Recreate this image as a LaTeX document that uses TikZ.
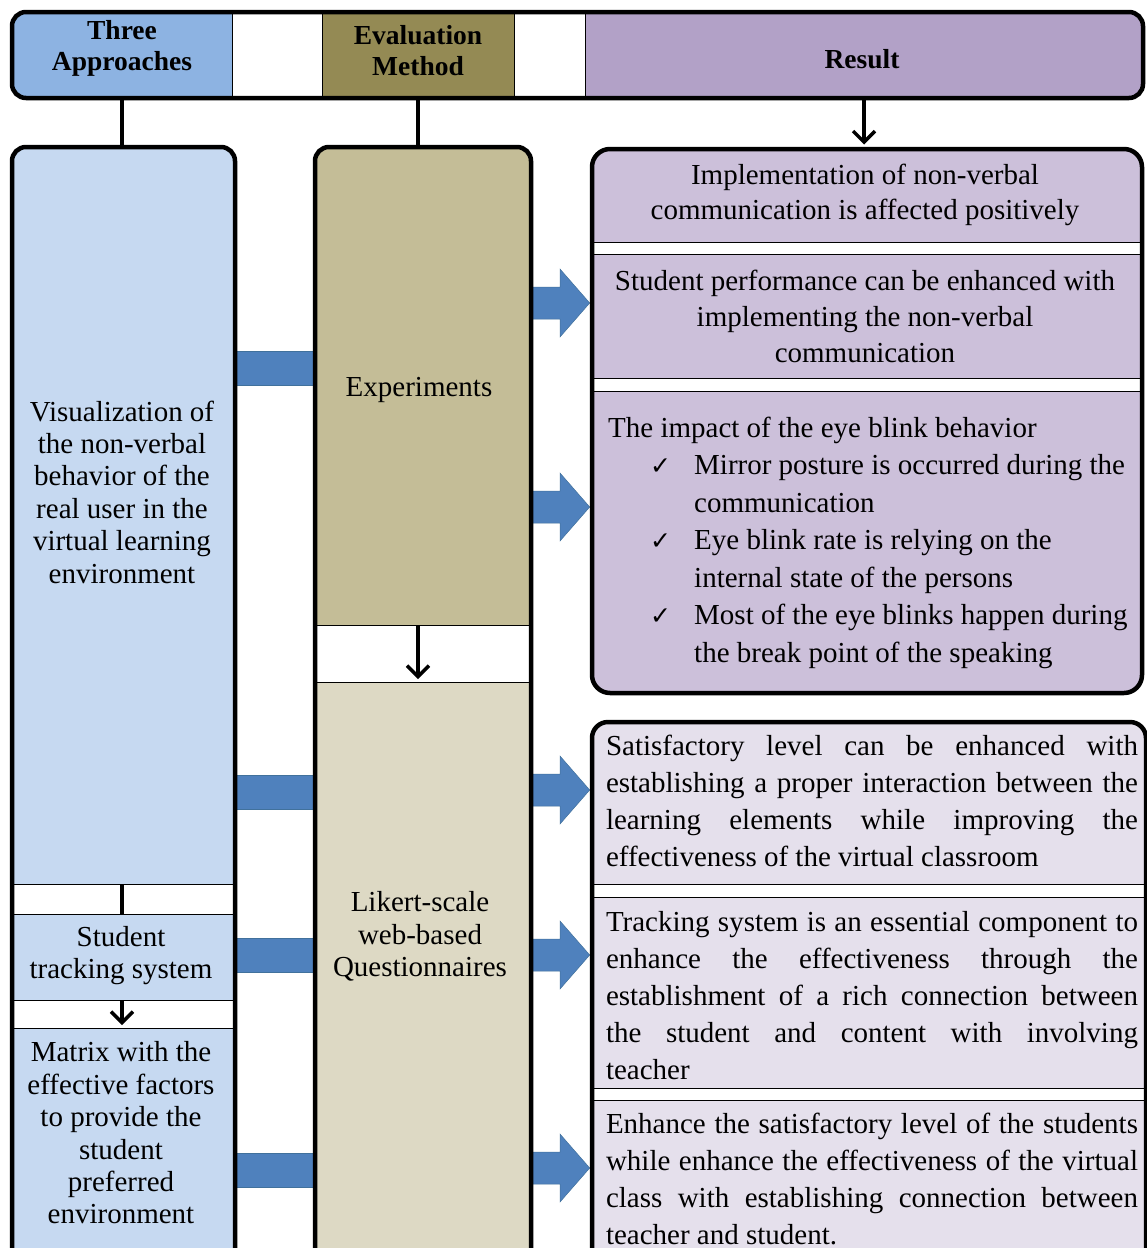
\documentclass[tikz,border=0pt]{standalone}
\usepackage{fontspec}
\setmainfont{Liberation Serif}
\newfontfamily\symfont{DejaVu Sans}
\usetikzlibrary{arrows.meta,calc}

\definecolor{hdrblue}{HTML}{8DB3E2}
\definecolor{hdrolive}{HTML}{948A54}
\definecolor{hdrpurple}{HTML}{B2A1C7}
\definecolor{paleblue}{HTML}{C6D9F1}
\definecolor{olivemid}{HTML}{C4BD97}
\definecolor{olivepale}{HTML}{DDD9C4}
\definecolor{lavender}{HTML}{CCC0DA}
\definecolor{lavpale}{HTML}{E5E0EC}
\definecolor{barblue}{HTML}{4F81BD}
\definecolor{baredge}{HTML}{41719C}

% check mark used in the bullet list
\newcommand\chk{{\symfont\fontsize{25}{25}\selectfont ✓}}

% flat connector bar between two columns at a given height
\newcommand\feedbar[3]{%
  \filldraw[barblue, draw=baredge, line width=0.5pt]
    let \p1=(#1.east), \p2=(#2.west) in
    (\x1,-#3pt+17pt) rectangle (\x2,-#3pt-17pt);}

% block arrow from a column to a result panel at a given height
\newcommand\fatarrow[3]{%
  \filldraw[barblue, draw=baredge, line width=0.5pt]
    let \p1=(#1.east), \p2=(#2.west) in
    (\x1,-#3pt+16pt) -- (\x2-32pt,-#3pt+16pt) -- (\x2-32pt,-#3pt+34pt)
    -- (\x2-2.3pt,-#3pt) -- (\x2-32pt,-#3pt-34pt) -- (\x2-32pt,-#3pt-16pt)
    -- (\x1,-#3pt-16pt) -- cycle;}

\begin{document}
% justified panels break only where told to
\tolerance=10000
\hyphenpenalty=10000
\begin{tikzpicture}[x=1pt, y=-1pt,
  frame/.style={draw=none, inner sep=0, outer sep=0, anchor=north west},
  cell/.style={draw=black, line width=0.8pt, inner sep=0, outer sep=0, anchor=north west},
  rim/.style={draw=black, line width=4.5pt, rounded corners=#1},
  rim/.default=14pt,
  head/.style={inner sep=0, align=center, font=\bfseries\fontsize{27.5}{31}\selectfont},
  coltxt/.style={inner sep=0, align=center, font=\fontsize{29}{32.4}\selectfont},
  restxt/.style={inner sep=0, align=center, font=\fontsize{29}{#1}\selectfont},
  jtxt/.style={inner sep=0, text width=532pt, align=justify,
    font=\fontsize{29}{37}\selectfont},
  link/.style={line width=3.2pt},
  linkarrow/.style={line width=3.2pt, -{Straight Barb[length=11pt,width=22pt,line width=3.4pt]}}
]
\path[use as bounding box] (0,0) rectangle (1147,1248);
\clip (0,0) rectangle (1147,1248);
\fill[white] (0,0) rectangle (1147,1248);

% outer frames of the header band and the four columns
\node[frame, minimum width=1131pt, minimum height=86pt] (hdr) at (12,12) {};
\node[frame, minimum width=223pt, minimum height=1173pt] (lframe) at (12,147) {};
\node[frame, minimum width=216pt, minimum height=1173pt] (mframe) at (315,147) {};
\node[frame, minimum width=550pt, minimum height=544pt] (ruframe) at (592,149) {};
\node[frame, minimum width=554pt, minimum height=598pt] (rlframe) at (592,722) {};

% header cells
\begin{scope}
  \clip[rounded corners=14pt] (hdr.north west) rectangle (hdr.south east);
  \node[cell, fill=hdrblue,   minimum width=220pt, minimum height=86pt] (hA) at (12,12) {};
  \node[cell, fill=hdrolive,  minimum width=192pt, minimum height=86pt] (hB) at (322,12) {};
  \node[cell, fill=hdrpurple, minimum width=558pt, minimum height=86pt] (hC) at (585,12) {};
\end{scope}

% approaches column
\begin{scope}
  \clip[rounded corners=14pt] (lframe.north west) rectangle (lframe.south east);
  \node[cell, fill=paleblue, minimum width=223pt, minimum height=737pt] (vis) at (12,147) {};
  \node[cell, fill=paleblue, minimum width=223pt, minimum height=86pt] (track) at (12,914) {};
  \node[cell, fill=paleblue, minimum width=223pt, minimum height=292pt] (matrix) at (12,1028) {};
\end{scope}

% evaluation column
\begin{scope}
  \clip[rounded corners=14pt] (mframe.north west) rectangle (mframe.south east);
  \node[cell, fill=olivemid,  minimum width=216pt, minimum height=478pt] (exp) at (315,147) {};
  \node[cell, fill=olivepale, minimum width=216pt, minimum height=638pt] (lik) at (315,682) {};
\end{scope}

% result panels, upper group
\begin{scope}
  \clip[rounded corners=18pt] (ruframe.north west) rectangle (ruframe.south east);
  \node[cell, fill=lavender, minimum width=550pt, minimum height=93pt] (impl) at (592,149) {};
  \node[cell, fill=lavender, minimum width=550pt, minimum height=124pt] (perf) at (592,254) {};
  \node[cell, fill=lavender, minimum width=550pt, minimum height=302pt] (blink) at (592,391) {};
\end{scope}

% result panels, lower group
\begin{scope}
  \clip[rounded corners=16pt] (rlframe.north west) rectangle (rlframe.south east);
  \node[cell, fill=lavpale, minimum width=554pt, minimum height=162pt] (sat) at (592,722) {};
  \node[cell, fill=lavpale, minimum width=554pt, minimum height=191pt] (trk) at (592,897) {};
  \node[cell, fill=lavpale, minimum width=554pt, minimum height=220pt] (enh) at (592,1100) {};
\end{scope}

% thin connectors
\draw[link] (hA.south) -- (hA.south |- vis.north);
\draw[link] (hB.south) -- (hB.south |- exp.north);
\draw[linkarrow, shorten >=4.5pt] (hC.south) -- (hC.south |- ruframe.north);
\draw[link] (hA.south |- vis.south) -- (hA.south |- track.north);
\draw[linkarrow, shorten >=3pt] (hA.south |- track.south) -- (hA.south |- matrix.north);
\draw[linkarrow, shorten >=3pt] (hB.south |- exp.south) -- (hB.south |- lik.north);

% wide bars between the first two columns
\feedbar{lframe}{mframe}{368}
\feedbar{lframe}{mframe}{792}
\feedbar{lframe}{mframe}{955}
\feedbar{lframe}{mframe}{1170}

% block arrows into the result panels
\fatarrow{mframe}{ruframe}{303}
\fatarrow{mframe}{ruframe}{507}
\fatarrow{mframe}{rlframe}{790}
\fatarrow{mframe}{rlframe}{955}
\fatarrow{mframe}{rlframe}{1168}

% frame outlines
\draw[rim] (hdr.north west) rectangle (hdr.south east);
\draw[rim] (lframe.north west) rectangle (lframe.south east);
\draw[rim] (mframe.north west) rectangle (mframe.south east);
\draw[rim=18pt] (ruframe.north west) rectangle (ruframe.south east);
\draw[rim=16pt] (rlframe.north west) rectangle (rlframe.south east);

% header texts
\node[head] (tHA) at (122,48.5) {Three\\Approaches};
\node[head] (tHB) at (418,50.5) {Evaluation\\Method};
\node[head] (tHC) at (862,59) {Result};

% column texts
\node[coltxt] (tVis) at (122,492) {Visualization of\\the non-verbal\\behavior of the\\real user in the\\virtual learning\\environment};
\node[coltxt] (tTrack) at (121,955.5) {Student\\tracking system};
\node[coltxt] (tMat) at (121,1133) {Matrix with the\\effective factors\\to provide the\\student\\preferred\\environment};
\node[coltxt] (tExp) at (419,390) {Experiments};
\node[coltxt] (tLik) at (420,936.5) {Likert-scale\\web-based\\Questionnaires};

% result texts
\node[restxt=35] (tImpl) at (865,194.5) {Implementation of non-verbal\\communication is affected positively};
\node[restxt=36] (tPerf) at (865,316) {Student performance can be enhanced with\\implementing the non-verbal\\communication};
\node[inner sep=0, align=left, anchor=west, font=\fontsize{29}{37.5}\selectfont] (tBlink) at (608,542.5) {%
The impact of the eye blink behavior\\
\hspace*{42pt}\makebox[44pt][l]{\chk}Mirror posture is occurred during the\\
\hspace*{86pt}communication\\
\hspace*{42pt}\makebox[44pt][l]{\chk}Eye blink rate is relying on the\\
\hspace*{86pt}internal state of the persons\\
\hspace*{42pt}\makebox[44pt][l]{\chk}Most of the eye blinks happen during\\
\hspace*{86pt}the break point of the speaking};

\node[jtxt] (tSat) at (872,801) {Satisfactory level can be enhanced with\linebreak
establishing a proper interaction between the\linebreak
learning elements while improving the\linebreak
effectiveness of the virtual classroom};
\node[jtxt] (tTrk) at (872,996) {Tracking system is an essential component to\linebreak
enhance the effectiveness through the\linebreak
establishment of a rich connection between\linebreak
the student and content with involving\linebreak
teacher};
\node[jtxt] (tEnh) at (872,1178.5) {Enhance the satisfactory level of the students\linebreak
while enhance the effectiveness of the virtual\linebreak
class with establishing connection between\linebreak
teacher and student.};
\end{tikzpicture}
\end{document}
